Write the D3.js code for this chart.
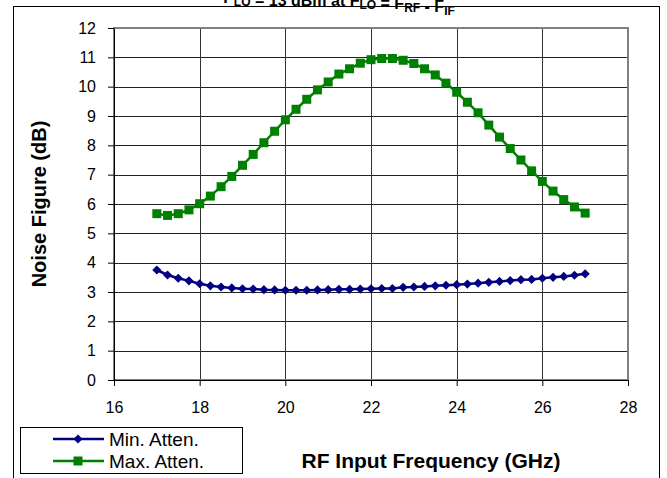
<!DOCTYPE html>
<html>
<head>
<meta charset="utf-8">
<script src="https://cdn.jsdelivr.net/npm/d3@7"></script>
<style>
  body { margin: 0; background: #fff; }
  svg { display: block; font-family: "Liberation Sans", Arial, sans-serif; }
</style>
</head>
<body>
<svg id="chart"></svg>
<script>
// chart data
const FREQ = [17, 17.25, 17.5, 17.75, 18, 18.25, 18.5, 18.75, 19, 19.25, 19.5, 19.75, 20,
              20.25, 20.5, 20.75, 21, 21.25, 21.5, 21.75, 22, 22.25, 22.5, 22.75, 23,
              23.25, 23.5, 23.75, 24, 24.25, 24.5, 24.75, 25, 25.25, 25.5, 25.75, 26,
              26.25, 26.5, 26.75, 27]
const MIN_ATTEN = [3.75, 3.58, 3.47, 3.38, 3.28, 3.21, 3.17, 3.14, 3.11, 3.10, 3.08, 3.07, 3.06,
                   3.06, 3.06, 3.07, 3.08, 3.09, 3.09, 3.10, 3.11, 3.12, 3.12, 3.16, 3.17,
                   3.19, 3.21, 3.23, 3.25, 3.27, 3.30, 3.33, 3.36, 3.39, 3.42, 3.43, 3.47,
                   3.50, 3.53, 3.57, 3.62]
const MAX_ATTEN = [5.67, 5.61, 5.67, 5.80, 6.01, 6.27, 6.59, 6.94, 7.32, 7.69, 8.09, 8.48, 8.87,
                   9.23, 9.57, 9.89, 10.16, 10.43, 10.61, 10.80, 10.92, 10.96, 10.96, 10.90, 10.79,
                   10.61, 10.40, 10.12, 9.81, 9.47, 9.11, 8.69, 8.28, 7.89, 7.50, 7.13, 6.77,
                   6.44, 6.15, 5.90, 5.69]
const X_TICKS = [16, 18, 20, 22, 24, 26, 28]
const Y_TICKS = [0, 1, 2, 3, 4, 5, 6, 7, 8, 9, 10, 11, 12]
const SERIES_NAMES = ['Min. Atten.', 'Max. Atten.']

// layout constants
const WIDTH = 667
const HEIGHT = 478
const LEFT = 114
const RIGHT = 628
const TOP = 28
const BOTTOM = 380
const BLUE = '#000080'
const GREEN = '#008000'

var svg = d3.select('#chart')
    .attr('width', WIDTH)
    .attr('height', HEIGHT)

var x = d3.scaleLinear().domain([16, 28]).range([LEFT, RIGHT])
var y = d3.scaleLinear().domain([0, 12]).range([BOTTOM, TOP])

// title, mostly cut off at the top edge like in the original
var title = svg.append('text')
    .attr('x', 339)
    .attr('y', 3)
    .attr('font-size', 16)
    .attr('font-weight', 'bold')
    .style('text-anchor', 'middle')
var parts = [['P', ''], ['LO', 'sub'], [' = 13 dBm at F', ''], ['LO', 'sub'], [' = F', ''],
             ['RF', 'sub'], [' - F', ''], ['IF', 'sub']]
parts.forEach(function(p) {
    if (p[1] == 'sub') {
        title.append('tspan').attr('dy', 3).attr('font-size', 12).text(p[0])
        title.append('tspan').attr('dy', -3).text('')
    } else {
        title.append('tspan').text(p[0])
    }
})

// outer chart border
svg.append('rect')
    .attr('x', 13.5)
    .attr('y', 6.5)
    .attr('width', 646)
    .attr('height', 490)
    .attr('fill', 'none')
    .attr('stroke', '#000')

// horizontal grid
svg.append('g')
    .selectAll('line')
    .data(Y_TICKS.slice(1, -1))
    .join('line')
    .attr('x1', LEFT)
    .attr('x2', RIGHT)
    .attr('y1', d => Math.round(y(d)) + 0.5)
    .attr('y2', d => Math.round(y(d)) + 0.5)
    .attr('stroke', '#222')

// vertical grid
svg.append('g')
    .selectAll('line')
    .data(X_TICKS.slice(1, -1))
    .join('line')
    .attr('x1', d => Math.round(x(d)) + 0.5)
    .attr('x2', d => Math.round(x(d)) + 0.5)
    .attr('y1', TOP)
    .attr('y2', BOTTOM)
    .attr('stroke', '#333')

// plot area frame (gray top and right)
svg.append('rect')
    .attr('x', LEFT)
    .attr('y', TOP)
    .attr('width', RIGHT - LEFT)
    .attr('height', BOTTOM - TOP)
    .attr('fill', 'none')
    .attr('stroke', '#808080')
    .attr('stroke-width', 2)

// axes
var xAxis = svg.append('g')
    .attr('transform', `translate(0,${BOTTOM})`)
    .call(d3.axisBottom(x).tickValues(X_TICKS).tickSize(6).tickSizeOuter(0).tickPadding(16))
var yAxis = svg.append('g')
    .attr('transform', `translate(${LEFT},0)`)
    .call(d3.axisLeft(y).tickValues(Y_TICKS).tickSize(6).tickSizeOuter(0).tickPadding(12))
;[xAxis, yAxis].forEach(function(g) {
    g.selectAll('path').attr('stroke', '#000')
    g.selectAll('line').attr('stroke', '#000')
    g.selectAll('text')
        .attr('font-size', 16)
        .attr('font-family', '"Liberation Sans", Arial, sans-serif')
        .attr('fill', '#000')
})

// axis titles
svg.append('text')
    .attr('transform', `translate(46,${(TOP + BOTTOM) / 2}) rotate(-90)`)
    .attr('font-size', 20)
    .attr('font-weight', 'bold')
    .style('text-anchor', 'middle')
    .text('Noise Figure (dB)')

svg.append('text')
    .attr('x', 431)
    .attr('y', 468)
    .attr('font-size', 21)
    .attr('font-weight', 'bold')
    .style('text-anchor', 'middle')
    .text('RF Input Frequency (GHz)')

// series
var diamond = d3.symbol(d3.symbolSquare, 42)
var square = d3.symbol(d3.symbolSquare, 81)

function drawSeries(values, color, symbolPath, rotate) {
    var pts = FREQ.map((f, i) => [f, values[i]])
    svg.append('path')
        .datum(pts)
        .attr('fill', 'none')
        .attr('stroke', color)
        .attr('stroke-width', 2.5)
        .attr('d', d3.line().x(d => x(d[0])).y(d => y(d[1])))
    svg.append('g')
        .selectAll('path')
        .data(pts)
        .join('path')
        .attr('transform', d => `translate(${x(d[0])},${y(d[1])}) rotate(${rotate})`)
        .attr('d', symbolPath)
        .attr('fill', color)
}

drawSeries(MIN_ATTEN, BLUE, diamond, 45)
drawSeries(MAX_ATTEN, GREEN, square, 0)

// legend
svg.append('rect')
    .attr('x', 20.5)
    .attr('y', 427.5)
    .attr('width', 222)
    .attr('height', 46)
    .attr('fill', '#fff')
    .attr('stroke', '#000')

var legendItems = [[SERIES_NAMES[0], BLUE, diamond, 45, 439],
                   [SERIES_NAMES[1], GREEN, square, 0, 461]]
legendItems.forEach(function(item) {
    svg.append('line')
        .attr('x1', 53)
        .attr('x2', 104)
        .attr('y1', item[4])
        .attr('y2', item[4])
        .attr('stroke', item[1])
        .attr('stroke-width', 2.5)
    svg.append('path')
        .attr('transform', `translate(78,${item[4]}) rotate(${item[3]})`)
        .attr('d', item[2])
        .attr('fill', item[1])
    svg.append('text')
        .attr('x', 109)
        .attr('y', item[4])
        .attr('dy', '.35em')
        .attr('font-size', 19)
        .text(item[0])
})
</script>
</body>
</html>
